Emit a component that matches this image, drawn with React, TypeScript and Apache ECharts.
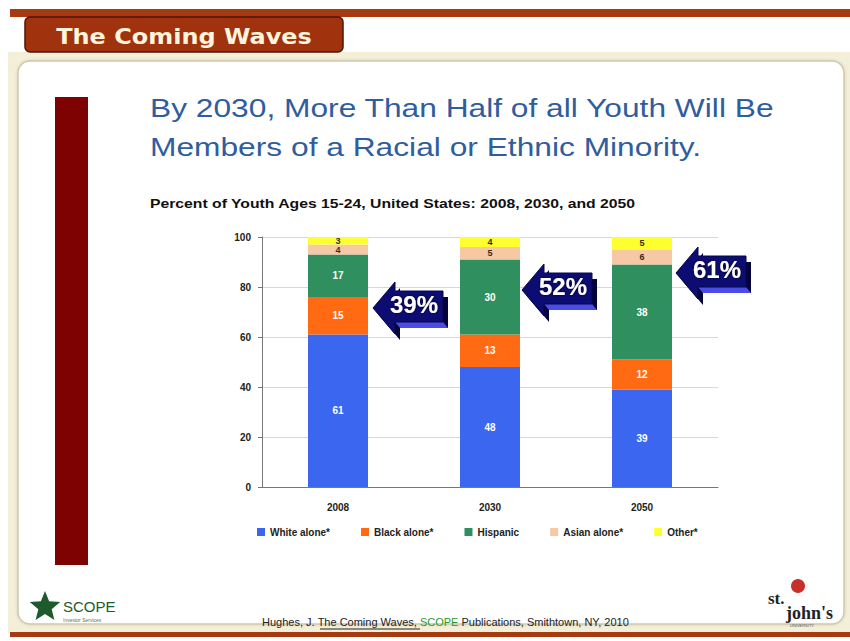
import React, { useEffect, useRef } from "react";
import * as echarts from "echarts";

const categories = ["2008", "2030", "2050"];
const whiteAlone = [61, 48, 39];
const blackAlone = [15, 13, 12];
const hispanic = [17, 30, 38];
const asianAlone = [4, 5, 6];
const otherRace = [3, 4, 5];
const minorityShares = ["39%", "52%", "61%"];
const seriesNames = ["White alone*", "Black alone*", "Hispanic", "Asian alone*", "Other*"];

const FONT = "'Liberation Sans', Arial, sans-serif";

function arrow(ox: number, oy: number, label: string) {
  const F = [[0, 26], [22, 0], [22, 9], [70, 9], [70, 40], [22, 40], [22, 52]];
  const d = [5, 6];
  const mv = (p: number[][], dx: number, dy: number) => p.map(([x, y]) => [ox + x + dx, oy + y + dy]);
  return [
    { type: "polygon", z: 50, shape: { points: mv(F, d[0], d[1]) }, style: { fill: "#04043a" } },
    { type: "polygon", z: 51, shape: { points: mv([[22, 40], [70, 40], [75, 46], [27, 46]], 0, 0) }, style: { fill: "#4b4be8" } },
    { type: "polygon", z: 52, shape: { points: mv(F, 0, 0) }, style: { fill: "#0c0c72", stroke: "#06064a", lineWidth: 1 } },
    {
      type: "text", z: 53, x: ox + 41, y: oy + 22,
      style: { text: label, fill: "#ffffff", font: `bold 24px ${FONT}`, align: "center", verticalAlign: "middle", textShadowColor: "#000", textShadowBlur: 2 },
    },
  ];
}

function starPoints(cx: number, cy: number, R: number, r: number) {
  const pts: number[][] = [];
  for (let i = 0; i < 10; i++) {
    const a = -Math.PI / 2 + (i * Math.PI) / 5;
    const rr = i % 2 === 0 ? R : r;
    pts.push([cx + rr * Math.cos(a), cy + rr * Math.sin(a)]);
  }
  return pts;
}

export default function App() {
  const ref = useRef<HTMLDivElement>(null);
  useEffect(() => {
    if (!ref.current) return;
    const chart = echarts.init(ref.current, null, { renderer: "svg" });
    const colors = ["#3a66f0", "#ff6a12", "#2f8f5e", "#f6c8a4", "#ffff30"];
    const labelColors = ["#ffffff", "#ffffff", "#ffffff", "#3a2a1a", "#3a2a1a"];
    const data = [whiteAlone, blackAlone, hispanic, asianAlone, otherRace];

    const graphic: any[] = [
      // slide background
      { type: "rect", z: -10, shape: { x: 8, y: 52, width: 842, height: 581 }, style: { fill: "#f4efd9" } },
      { type: "rect", z: -9, shape: { x: 18, y: 61, width: 826, height: 563, r: 12 }, style: { fill: "#ffffff", stroke: "#cfc8aa", lineWidth: 1.5, shadowColor: "rgba(0,0,0,0.15)", shadowBlur: 3 } },
      { type: "rect", z: -8, shape: { x: 10, y: 9, width: 840, height: 8 }, style: { fill: "#a83a12" } },
      { type: "rect", z: -8, shape: { x: 10, y: 632, width: 840, height: 5 }, style: { fill: "#a83a12" } },
      { type: "rect", z: -7, shape: { x: 25, y: 17, width: 318, height: 35, r: 5 }, style: { fill: "#a0330e", stroke: "#4a1505", lineWidth: 1.5 } },
      {
        type: "text", z: -6, x: 184, y: 36, scaleX: 1.09,
        style: { text: "The Coming Waves", fill: "#fff4dc", font: "bold 22px 'DejaVu Sans', Verdana, sans-serif", align: "center", verticalAlign: "middle" },
      },
      { type: "rect", z: -7, shape: { x: 55, y: 97, width: 33, height: 468 }, style: { fill: "#7e0202" } },
      {
        type: "text", z: 5, x: 150, y: 108, scaleX: 1.22,
        style: { text: "By 2030, More Than Half of all Youth Will Be", fill: "#2f5d9e", font: `26px ${FONT}`, verticalAlign: "middle" },
      },
      {
        type: "text", z: 5, x: 150, y: 147, scaleX: 1.22,
        style: { text: "Members of a Racial or Ethnic Minority.", fill: "#2f5d9e", font: `26px ${FONT}`, verticalAlign: "middle" },
      },
      {
        type: "text", z: 5, x: 150, y: 204, scaleX: 1.26,
        style: { text: "Percent of Youth Ages 15-24, United States: 2008, 2030, and 2050", fill: "#111", font: `bold 12.5px ${FONT}`, verticalAlign: "middle" },
      },
      // footer
      { type: "polygon", z: 5, shape: { points: starPoints(45, 607, 16, 7) }, style: { fill: "#1d5a2c" } },
      { type: "text", z: 5, x: 63, y: 606, style: { text: "SCOPE", fill: "#1d5a2c", font: `15px ${FONT}`, verticalAlign: "middle" } },
      { type: "text", z: 5, x: 63, y: 620, style: { text: "Investor Services", fill: "#557755", font: `5px ${FONT}`, verticalAlign: "middle" } },
      {
        type: "text", z: 5, x: 262, y: 622,
        style: {
          text: "{a|Hughes, J. }{u|The Coming Waves}{a|, }{g|SCOPE}{a| Publications, Smithtown, NY, 2010}",
          verticalAlign: "middle",
          rich: {
            a: { fill: "#222", font: `11px ${FONT}` },
            u: { fill: "#222", font: `11px ${FONT}` },
            g: { fill: "#2a9a2a", font: `11px ${FONT}` },
          },
        },
      },
      { type: "line", z: 5, shape: { x1: 320, y1: 629, x2: 420, y2: 629 }, style: { stroke: "#222", lineWidth: 1 } },
      { type: "circle", z: 5, shape: { cx: 798, cy: 586, r: 7 }, style: { fill: "#c8302a" } },
      { type: "text", z: 5, x: 768, y: 598, style: { text: "st.", fill: "#222", font: "bold 17px 'Liberation Serif', serif", verticalAlign: "middle" } },
      { type: "text", z: 5, x: 786, y: 613, style: { text: "john's", fill: "#222", font: "bold 18px 'Liberation Serif', serif", verticalAlign: "middle" } },
      { type: "text", z: 5, x: 790, y: 625, style: { text: "UNIVERSITY", fill: "#555", font: `4px ${FONT}`, verticalAlign: "middle" } },
      ...arrow(373, 282, minorityShares[0]),
      ...arrow(522, 264, minorityShares[1]),
      ...arrow(676, 247, minorityShares[2]),
    ];

    chart.setOption({
      animation: false,
      color: colors,
      textStyle: { fontFamily: FONT },
      grid: { left: 262, top: 237, width: 456, height: 250, containLabel: false },
      legend: {
        left: 252, top: 522, itemWidth: 8, itemHeight: 8, itemGap: 31, icon: "rect",
        textStyle: { fontSize: 10, fontWeight: "bold", color: "#222", fontFamily: FONT },
        data: seriesNames,
      },
      xAxis: {
        type: "category", data: categories,
        axisLine: { lineStyle: { color: "#777" } },
        axisTick: { show: false },
        axisLabel: { fontSize: 10, fontWeight: "bold", color: "#222", margin: 15 },
      },
      yAxis: {
        type: "value", min: 0, max: 100, interval: 20,
        axisLine: { show: true, lineStyle: { color: "#777" } },
        axisTick: { show: true, length: 4, lineStyle: { color: "#777" } },
        axisLabel: { fontSize: 10, fontWeight: "bold", color: "#222", margin: 11 },
        splitLine: { lineStyle: { color: "#d8d8d8" } },
      },
      series: seriesNames.map((name, i) => ({
        name, type: "bar", stack: "total", barWidth: 60, data: data[i],
        itemStyle: { color: colors[i] },
        label: {
          show: true, position: "inside", fontWeight: "bold", color: labelColors[i],
          fontSize: i >= 3 ? 9 : 10, lineHeight: i >= 3 ? 8 : 12,
        },
      })),
      graphic,
    });
    return () => chart.dispose();
  }, []);
  return <div ref={ref} style={{ position: "absolute", left: 0, top: 0, width: 850, height: 641 }} />;
}
